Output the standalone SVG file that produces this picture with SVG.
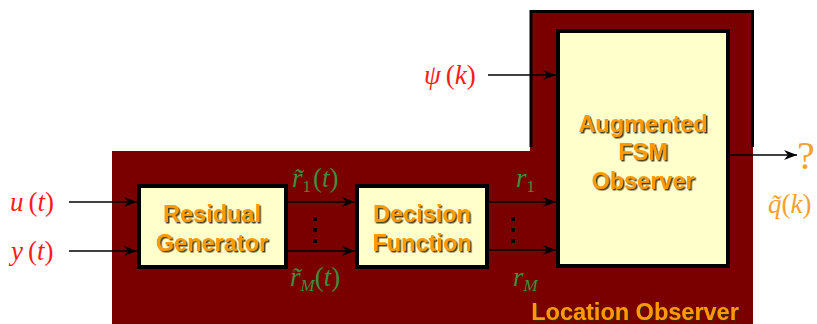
<svg xmlns="http://www.w3.org/2000/svg" width="817" height="324" viewBox="0 0 817 324">
<defs>
<marker id="ah" markerWidth="14" markerHeight="10" refX="13" refY="5" orient="auto" markerUnits="userSpaceOnUse">
<path d="M0,0 L13,5 L0,10 L4,5 Z" fill="#000"/>
</marker>
<filter id="sh" x="-10%" y="-10%" width="130%" height="140%">
<feDropShadow dx="1.5" dy="1.5" stdDeviation="0.6" flood-color="#3a2a00" flood-opacity="0.9"/>
</filter>
</defs>
<style>
.blk{fill:#FFFFCC;stroke:#000;stroke-width:4}
.lbl{font-family:"Liberation Sans",Arial,sans-serif;font-weight:bold;font-size:23.5px;fill:#FF9900;text-anchor:middle;filter:url(#sh)}
.m{font-family:"Liberation Serif","Times New Roman",serif;font-size:27px}
.i{font-style:italic}
.s{font-size:17px}
.red{fill:#FF1A1A}
.grn{fill:#3E8E3E}
.org{fill:#F5A030}
.c{stroke:#000;stroke-width:1.3;fill:none;marker-end:url(#ah)}
.dot{fill:#000}
</style>
<g id="location-observer">
<rect x="112" y="151" width="641" height="173" fill="#7A0000"/>
<rect x="530" y="11" width="223" height="141" fill="#7A0000"/>
<path d="M531,147 L531,11.5 L752.5,11.5 L752.5,147" fill="none" stroke="#000" stroke-width="3"/>
<text class="lbl" x="635" y="320">Location Observer</text>
</g>
<g id="residual-generator">
<rect class="blk" x="139" y="186" width="147" height="81"/>
<text class="lbl" x="212" y="222">Residual</text>
<text class="lbl" x="212" y="251">Generator</text>
</g>
<g id="decision-function">
<rect class="blk" x="357" y="186" width="130" height="81"/>
<text class="lbl" x="422" y="222">Decision</text>
<text class="lbl" x="422" y="251">Function</text>
</g>
<g id="fsm-observer">
<rect class="blk" x="558" y="31" width="170" height="235"/>
<text class="lbl" x="643" y="132">Augmented</text>
<text class="lbl" x="643" y="160">FSM</text>
<text class="lbl" x="643" y="189">Observer</text>
</g>
<g id="connectors">
<line class="c" x1="69" y1="202" x2="137" y2="202"/>
<line class="c" x1="69" y1="251" x2="137" y2="251"/>
<line class="c" x1="288" y1="202" x2="355" y2="202"/>
<line class="c" x1="288" y1="251" x2="355" y2="251"/>
<line class="c" x1="489" y1="202" x2="556" y2="202"/>
<line class="c" x1="489" y1="250" x2="556" y2="250"/>
<line class="c" x1="488" y1="75" x2="556" y2="75"/>
<line class="c" x1="730" y1="155" x2="797" y2="155"/>
<rect class="dot" x="313" y="217" width="4" height="4"/>
<rect class="dot" x="313" y="228" width="4" height="4"/>
<rect class="dot" x="313" y="239" width="4" height="4"/>
<rect class="dot" x="511" y="217" width="4" height="4"/>
<rect class="dot" x="511" y="228" width="4" height="4"/>
<rect class="dot" x="511" y="239" width="4" height="4"/>
</g>
<g id="labels">
<text class="m red" x="10" y="211"><tspan class="i">u</tspan><tspan dx="5">(</tspan><tspan class="i">t</tspan>)</text>
<text class="m red" x="11" y="260"><tspan class="i">y</tspan><tspan dx="5">(</tspan><tspan class="i">t</tspan>)</text>
<text class="m red" x="424" y="84"><tspan class="i">ψ</tspan><tspan dx="5">(</tspan><tspan class="i">k</tspan>)</text>
<text class="m grn" x="292" y="187"><tspan class="i">r̃</tspan><tspan class="s" dy="5">1</tspan><tspan dy="-5" dx="2">(</tspan><tspan class="i">t</tspan>)</text>
<text class="m grn" x="290" y="286"><tspan class="i">r̃</tspan><tspan class="i s" dy="5">M</tspan><tspan dy="-5">(</tspan><tspan class="i">t</tspan>)</text>
<text class="m grn" x="516" y="187"><tspan class="i">r</tspan><tspan class="s" dy="5">1</tspan></text>
<text class="m grn" x="513" y="286"><tspan class="i">r</tspan><tspan class="i s" dy="5">M</tspan></text>
<text class="m org" x="797" y="169" style="font-size:40px">?</text>
<text class="m org" x="768" y="213"><tspan class="i">q̃</tspan>(<tspan class="i">k</tspan>)</text>
</g>
</svg>
